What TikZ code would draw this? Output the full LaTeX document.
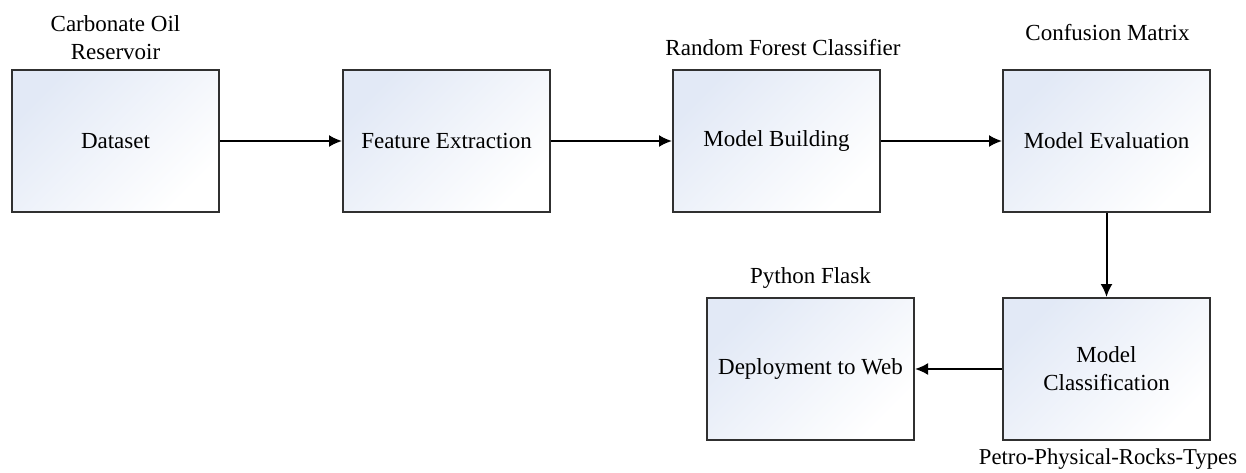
\documentclass[tikz,border=0pt]{standalone}
\usepackage{fontspec}
\setmainfont{Liberation Serif}
\usepackage{tikz}
\usetikzlibrary{arrows.meta,positioning,calc}
\definecolor{boxtint}{HTML}{E2E9F6}
\definecolor{boxline}{HTML}{303030}

\begin{document}
\begin{tikzpicture}[x=1pt,y=-1pt,>={Latex[length=13pt,width=12pt]},
  blk/.style={draw=boxline,line width=2pt,minimum width=207pt,minimum height=142pt,
    inner sep=0pt,align=center,left color=boxtint,right color=white,shading angle=45,
    font=\fontsize{23}{28}\selectfont},
  lbl/.style={inner sep=0pt,align=center,font=\fontsize{23}{28}\selectfont},
  flow/.style={->,line width=2pt}]
\useasboundingbox (0,0) rectangle (1246,473);
\node[blk] (data) at (115.5,141) {Dataset};
\node[blk] (feat) at (446.5,141) {Feature Extraction};
\node[blk] (build) at (776.5,141) {Model Building};
\node[blk] (eval) at (1106.5,141) {Model Evaluation};
\node[blk] (class) at (1106.5,369) {Model\\Classification};
\node[blk] (deploy) at (810.5,369) {Deployment to Web};
\node[lbl] (datalbl) at (115.5,38) {Carbonate Oil\\Reservoir};
\node[lbl] (buildlbl) at (783,48) {Random Forest Classifier};
\node[lbl] (evallbl) at (1107.5,33) {Confusion Matrix};
\node[lbl] (deploylbl) at (810.5,278) {Python Flask};
\node[lbl,font=\fontsize{22.7}{27}\selectfont] (classlbl) at (1108,459) {Petro-Physical-Rocks-Types};
\draw[flow] (data) -- (feat);
\draw[flow] (feat) -- (build);
\draw[flow] (build) -- (eval);
\draw[flow] (eval) -- (class);
\draw[flow] (class) -- (deploy);
\end{tikzpicture}
\end{document}
